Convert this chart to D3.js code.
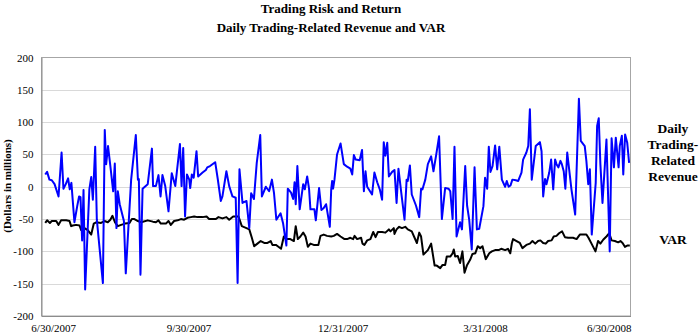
<!DOCTYPE html>
<html><head><meta charset="utf-8">
<script src="https://cdn.jsdelivr.net/npm/d3@7"></script>
<style>
html,body{margin:0;padding:0;background:#fff;}
svg{display:block;}
text{font-family:"Liberation Serif","Times New Roman",serif;}
</style></head>
<body>
<svg id="chart" width="699" height="335"></svg>
<script>
// ---- data (x = trading day index since 6/30/2007, values in $ millions) ----
const revDay = [1.6,2.4,3.4,4.4,5.6,7.3,8.6,9.4,10.4,11.4,12.1,12.8,14.1,15.3,16.1,16.7,17.4,18,18.7,20.5,21.3,22,23,23.7,26.3,27.1,27.7,28.5,29.5,30.7,31.4,32.1,32.7,33.5,35.3,36.1,38.4,40.4,41.3,41.7,42.4,43.3,45.5,47.3,47.8,
  49,50.1,51,51.8,53,54.4,55.8,57.3,59.3,60,60.7,61.5,62.3,63.3,63.7,64.4,65.2,66.4,67.1,69,70.4,71,72.2,74.4,75.5,76.8,77.5,79.2,80.4,81.8,83.2,84,84.8,86.1,87.8,89,89.8,91,92.2,93.7,94.4,96.1,97.5,98.7,
  99.6,100.6,102.4,103.5,104.9,105.5,106.9,107.8,108.4,108.9,109.6,110.6,112.1,112.8,113.8,114.6,115.2,116.9,117.5,118.9,119.9,120.9,121.9,123.5,124.1,124.5,124.9,125.5,126.6,128.1,129.5,130.9,132.3,133.1,133.8,134.6,136.3,137.3,138.1,138.8,139.5,141.6,142.6,143.8,144.9,145.9,146.6,147.3,148.1,148.8,150.2,
  151.2,152.1,152.9,154.1,155.5,156.4,156.9,157.8,158.6,160.4,161.8,162.6,163.2,164.4,165.5,166.9,167.9,169.1,170.3,171.5,172.9,174.4,175.1,176.1,176.9,177.8,179.3,180.1,181.5,182.3,183.2,184.3,185.5,186.5,187.5,189.3,190,190.9,191.6,192.3,193.2,194.3,195.2,196.1,197.2,198.6,199.3,200.1,
  200.9,201.7,203.2,204.2,205.6,206.3,207.7,208.5,209.2,210,211.7,213.5,214.2,214.9,215.7,216.3,217.5,218.3,219.2,220,220.6,221.4,222.3,222.9,223.7,224.4,225.2,227,228.6,230.2,231,232.7,233.4,234.2,234.9,235.7,237.4,238,238.7,239.4,240.3,242,243.4,244.2,245.2,246,247.2,247.7,248.6,249.2,250,250.9,251.7];
const revenue = [19,23,11,10,4,-15,53,-3,4,13,-4,6,-55,-30,-15,-16,-83,-5,-159,-4,15,-20,62,-51,-149,88,35,63,32,-7,36,-64,-7,-27,-53,-134,11,80,11,12,-136,-3,4,59,1,
  1,18,-15,18,1,-38,21,1,66,1,60,-46,19,11,-2,19,14,55,16,22,26,30,32,38,12,-22,-15,24,1,-15,-17,-149,27,-25,-22,-64,-10,-19,37,80,-15,0,-7,11,
  -10,-51,-41,-57,-91,-3,-9,-19,7,-27,32,-35,4,-4,16,-3,-35,-35,-52,-2,-36,-33,-27,-62,-4,9,-3,11,50,67,35,31,28,19,49,42,41,57,-7,24,0,-12,22,7,-4,-20,69,48,68,16,23,
  26,-25,28,-9,-51,11,9,33,-12,-29,-47,-3,-4,11,35,47,24,50,78,-50,-2,-3,-7,-50,62,-77,-55,-66,32,-29,-51,-97,30,-66,-65,-30,14,-3,62,23,32,64,27,62,11,0,9,0,
  2,11,10,9,22,42,53,63,120,11,63,69,55,-15,12,4,22,42,-4,42,35,30,40,35,24,-3,53,-4,-43,136,71,63,40,4,27,-74,6,94,106,35,-25,73,-100,75,30,76,30,63,79,19,81,68,37];

const varDay = [1.6,2.4,3.6,4.4,6.3,7.3,8.4,10.6,12,12.7,13.4,14.8,16.3,17,18.4,19.8,21.3,22.4,23.4,25.5,27,28.4,29.5,30.4,31.5,32.7,34.1,35.8,37.7,38.7,39.8,41.3,42.7,45.5,47.7,
  49,50.1,51.1,53.3,54.4,55.4,56.8,58.3,59.7,61.1,62.5,64,65.4,66.8,69,70.7,71.8,74.7,75.8,77.5,79.2,80.4,82.1,84.4,85.8,87.8,89,90.1,91.1,92.5,93.9,95.4,96.8,98.2,98.9,
  100.4,101.2,102.6,103.8,104.9,106.6,108.1,108.9,109.8,110.9,112.1,113.1,114.1,115.2,116.6,118.6,119.5,120.9,122.3,124.1,125.2,126.6,128.1,129.8,130.9,132.3,133.5,134.1,135.2,136.9,137.5,138.3,139.5,140.9,142.1,143.1,144.1,145.9,147.3,148.8,149.5,
  150.9,151.2,152.1,153.2,154.4,155.8,156.9,158.6,160.8,161.8,162.6,163.6,165.5,166.9,168.4,169.3,170.8,171.8,172.9,173.6,175.1,176.1,176.6,177.2,178.3,179.3,180.3,181.2,182.2,183.6,184.6,185.8,186.9,187.9,188.9,190.3,191.8,192.9,194.3,195.8,196.9,198.6,199.8,
  200.8,201.5,202,203.5,204.9,206,207.7,209.2,210.3,211.5,212.7,213.7,214.9,216,217,218.5,219.4,220.6,221.7,223,224.2,225.6,227.7,229.2,230.6,232,233.4,234.3,235.6,237.3,238.4,239.4,240.6,242,243.2,244.2,245.6,247,248,248.9,249.9,250.9,252];
const varValue = [-56,-52,-56,-53,-53,-59,-52,-52,-53,-61,-60,-59,-60,-67,-64,-67,-74,-57,-55,-56,-53,-55,-51,-45,-55,-61,-59,-57,-56,-50,-50,-53,-55,-52,-54,
  -55,-52,-57,-57,-53,-59,-53,-52,-50,-51,-48,-47,-46,-47,-47,-46,-50,-50,-47,-49,-47,-51,-46,-46,-61,-64,-66,-79,-92,-88,-84,-87,-87,-84,-90,
  -90,-92,-96,-77,-81,-81,-84,-61,-81,-77,-71,-77,-93,-88,-90,-90,-76,-74,-76,-77,-76,-73,-77,-81,-81,-79,-81,-76,-81,-79,-88,-90,-83,-81,-70,-78,-70,-70,-71,-66,-69,
  -64,-73,-66,-62,-64,-62,-66,-69,-87,-71,-77,-105,-98,-88,-122,-122,-126,-121,-121,-108,-108,-103,-97,-108,-107,-118,-100,-133,-122,-113,-104,-103,-92,-95,-92,-112,-103,-100,-98,-98,-96,-98,-96,
  -103,-87,-81,-84,-87,-95,-90,-88,-84,-88,-84,-83,-87,-88,-84,-83,-77,-76,-72,-69,-78,-79,-79,-81,-74,-74,-74,-79,-88,-100,-84,-88,-82,-77,-72,-83,-84,-86,-84,-87,-93,-91,-91];

const yTicks = [-200,-150,-100,-50,0,50,100,150,200];
const xTickDays = [5, 63, 129, 190, 243];
const xTickLabels = ["6/30/2007","9/30/2007","12/31/2007","3/31/2008","6/30/2008"];
const titleLines = ["Trading Risk and Return","Daily Trading-Related Revenue and VAR"];
const yAxisTitle = "(Dollars in millions)";
const revLabel = ["Daily","Trading-","Related","Revenue"];
const varLabel = "VAR";

// ---- drawing ----
const svg = d3.select("#chart");
const m = {left:41.5, right:630.5, top:57.5, bottom:316};
const x = d3.scaleLinear().domain([0,252.3]).range([m.left, m.right]);
const y = d3.scaleLinear().domain([-200,200]).range([m.bottom, m.top]);

// titles
svg.append("g").selectAll("text").data(titleLines).join("text")
  .attr("x",331).attr("y",(d,i)=>13+i*19)
  .attr("text-anchor","middle").attr("font-weight","bold").attr("font-size","13px")
  .text(d=>d);

// gridlines
svg.append("g").selectAll("line").data(yTicks.filter(v=>v>-200 && v<200)).join("line")
  .attr("x1",m.left).attr("x2",m.right)
  .attr("y1",d=>Math.round(y(d))+0.5).attr("y2",d=>Math.round(y(d))+0.5)
  .attr("stroke","#d9d9d9").attr("stroke-width",1);

// plot border
svg.append("rect").attr("x",m.left).attr("y",m.top)
  .attr("width",m.right-m.left).attr("height",m.bottom-m.top)
  .attr("fill","none").attr("stroke","#a6a6a6").attr("stroke-width",1);

// y axis
const yAxis = d3.axisLeft(y).tickValues(yTicks).tickSize(0).tickPadding(8)
  .tickFormat(d=>String(d));
const gy = svg.append("g").attr("transform",`translate(${m.left},0)`).call(yAxis);
gy.select(".domain").attr("stroke","#8c8c8c");
gy.selectAll("text").attr("font-family","'Liberation Serif',serif").attr("font-size","11px").attr("fill","#000");

// x labels
const gx = svg.append("g").attr("transform",`translate(0,${m.bottom})`)
  .call(d3.axisBottom(x).tickValues(xTickDays).tickSize(0).tickPadding(8)
    .tickFormat((d,i)=>xTickLabels[i]));
gx.select(".domain").attr("stroke","#8c8c8c");
gx.selectAll("text").attr("font-family","'Liberation Serif',serif").attr("font-size","11px").attr("fill","#000");

// y title
svg.append("text").attr("transform","translate(11,186) rotate(-90)")
  .attr("text-anchor","middle").attr("font-weight","bold").attr("font-size","11px")
  .text(yAxisTitle);

// lines
const revLine = d3.line().x((d,i)=>x(revDay[i])).y(d=>y(d));
const varLine = d3.line().x((d,i)=>x(varDay[i])).y(d=>y(d));
svg.append("path").datum(varValue).attr("d",varLine)
  .attr("fill","none").attr("stroke","#000").attr("stroke-width",2).attr("stroke-linejoin","round");
svg.append("path").datum(revenue).attr("d",revLine)
  .attr("fill","none").attr("stroke","#0000ff").attr("stroke-width",2).attr("stroke-linejoin","round");

// right labels
svg.append("g").selectAll("text").data(revLabel).join("text")
  .attr("x",673).attr("y",(d,i)=>133+i*16)
  .attr("text-anchor","middle").attr("font-weight","bold").attr("font-size","13.5px")
  .text(d=>d);
svg.append("text").attr("x",673).attr("y",244)
  .attr("text-anchor","middle").attr("font-weight","bold").attr("font-size","13.5px")
  .text(varLabel);
</script>
</body></html>
